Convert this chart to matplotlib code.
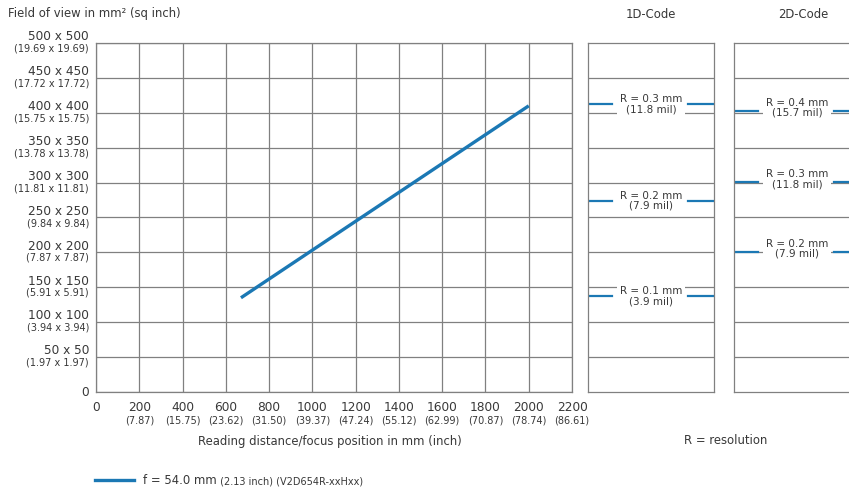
import numpy as np
import matplotlib.pyplot as plt
from matplotlib.lines import Line2D

# data
dist_mm = [670, 2000]
fov_mm = [135, 410]

x_ticks = [0, 200, 400, 600, 800, 1000, 1200, 1400, 1600, 1800, 2000, 2200]
x_inch = ['', '(7.87)', '(15.75)', '(23.62)', '(31.50)', '(39.37)', '(47.24)',
          '(55.12)', '(62.99)', '(70.87)', '(78.74)', '(86.61)']
y_ticks = [0, 50, 100, 150, 200, 250, 300, 350, 400, 450, 500]
y_inch = ['', '(1.97 x 1.97)', '(3.94 x 3.94)', '(5.91 x 5.91)', '(7.87 x 7.87)',
          '(9.84 x 9.84)', '(11.81 x 11.81)', '(13.78 x 13.78)', '(15.75 x 15.75)',
          '(17.72 x 17.72)', '(19.69 x 19.69)']

code1d_fov = [412, 274, 137]
code1d_res = ['R = 0.3 mm\n(11.8 mil)', 'R = 0.2 mm\n(7.9 mil)', 'R = 0.1 mm\n(3.9 mil)']
code2d_fov = [403, 301, 201]
code2d_res = ['R = 0.4 mm\n(15.7 mil)', 'R = 0.3 mm\n(11.8 mil)', 'R = 0.2 mm\n(7.9 mil)']

blue = '#1b78b4'
grid_c = '#808080'
txt_c = '#383838'

fig = plt.figure(figsize=(8.49, 4.88), dpi=100)
W, H = 849, 488


def box(x0, y0, x1, y1):
    return [x0 / W, 1 - y1 / H, (x1 - x0) / W, (y1 - y0) / H]


ax = fig.add_axes(box(96, 43, 572, 392))
ax.plot(dist_mm, fov_mm, color=blue, lw=2.4, solid_capstyle='butt', zorder=3)
ax.set_xlim(0, 2200)
ax.set_ylim(0, 500)
ax.set_xticks(x_ticks)
ax.set_yticks(y_ticks)
ax.set_xticklabels([])
ax.set_yticklabels([])
ax.tick_params(length=0)
ax.grid(True, color=grid_c, lw=0.9)
for s in ax.spines.values():
    s.set_color(grid_c)
    s.set_linewidth(0.9)

ytr = ax.get_yaxis_transform()
for v, inch in zip(y_ticks, y_inch):
    if v:
        ax.annotate(f'{v} x {v}', (0, v), xycoords=ytr, xytext=(-5, 4.5),
                    textcoords='offset points', ha='right', va='center',
                    fontsize=8.7, color=txt_c)
        ax.annotate(inch, (0, v), xycoords=ytr, xytext=(-5, -4),
                    textcoords='offset points', ha='right', va='center',
                    fontsize=7, color=txt_c)
    else:
        ax.annotate('0', (0, v), xycoords=ytr, xytext=(-5, 0),
                    textcoords='offset points', ha='right', va='center',
                    fontsize=8.7, color=txt_c)

xtr = ax.get_xaxis_transform()
for v, inch in zip(x_ticks, x_inch):
    ax.annotate(str(v), (v, 0), xycoords=xtr, xytext=(0, -11.5), textcoords='offset points',
                ha='center', va='center', fontsize=8.7, color=txt_c)
    if inch:
        ax.annotate(inch, (v, 0), xycoords=xtr, xytext=(0, -20.5), textcoords='offset points',
                    ha='center', va='center', fontsize=7, color=txt_c)


def panel(rect, fovs, labels, dy):
    p = fig.add_axes(rect)
    p.set_xlim(0, 1)
    p.set_ylim(0, 500)
    p.set_xticks([])
    p.set_yticks([])
    for v in y_ticks[1:-1]:
        p.axhline(v, color=grid_c, lw=0.9, zorder=1)
    for s in p.spines.values():
        s.set_color(grid_c)
        s.set_linewidth(0.9)
    for v, lab in zip(fovs, labels):
        p.axhline(v, xmin=0, xmax=0.19, color=blue, lw=1.6, zorder=2)
        p.axhline(v, xmin=0.79, xmax=1, color=blue, lw=1.6, zorder=2)
        p.text(0.5, v + dy, lab, ha='center', va='center', fontsize=7.5, color=txt_c,
               linespacing=1.0, zorder=3,
               bbox=dict(boxstyle='square,pad=0.3', fc='white', ec='none'))
    return p


panel(box(588, 43, 714, 392), code1d_fov, code1d_res, 0)
panel(box(734, 43, 860, 392), code2d_fov, code2d_res, 4)

fig.text(8 / W, 1 - 14 / H, 'Field of view in mm² (sq inch)', ha='left', va='center',
         fontsize=8.4, color=txt_c)
fig.text(651 / W, 1 - 15 / H, '1D-Code', ha='center', va='center', fontsize=8.4, color=txt_c)
fig.text(803 / W, 1 - 15 / H, '2D-Code', ha='center', va='center', fontsize=8.4, color=txt_c)
fig.text(330 / W, 1 - 441 / H, 'Reading distance/focus position in mm (inch)',
         ha='center', va='center', fontsize=8.4, color=txt_c)
fig.text(726 / W, 1 - 441 / H, 'R = resolution', ha='center', va='center',
         fontsize=8.4, color=txt_c)

# legend
fig.add_artist(Line2D([95 / W, 134 / W], [1 - 480 / H] * 2, color=blue, lw=2.4,
                      transform=fig.transFigure))
t1 = fig.text(143 / W, 1 - 480 / H, 'f = 54.0 mm', ha='left', va='center',
              fontsize=8.4, color=txt_c)
ax.annotate(' (2.13 inch) (V2D654R-xxHxx)', xy=(1, 0), xycoords=t1, xytext=(0, 0.3),
            textcoords='offset points', ha='left', va='bottom', fontsize=7, color=txt_c,
            annotation_clip=False)

fig.savefig('out.png', dpi=100)
